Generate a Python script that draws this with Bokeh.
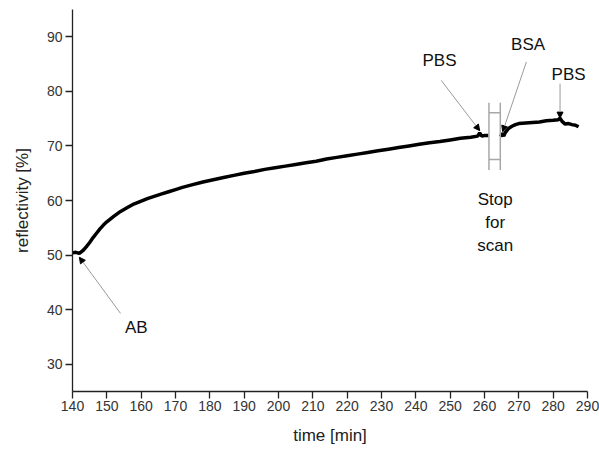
from bokeh.plotting import figure
from bokeh.models import Arrow, NormalHead, Range1d
from bokeh.core.properties import value
from bokeh.embed import file_html
from bokeh.resources import INLINE

# ---- data ----
time_before = [140, 141, 142, 143, 144, 145, 146, 147, 148, 149, 150, 152, 154, 156, 158, 160,
               162, 164, 166, 168, 170, 172, 175, 178, 181, 184, 187, 190, 193, 196, 199, 202,
               205, 208, 211, 214, 217, 220, 223, 226, 229, 232, 235, 238, 241, 244, 247, 250,
               253, 256, 258, 258.6, 259.2, 260, 261.2]
refl_before = [50.4, 50.5, 50.3, 50.8, 51.5, 52.3, 53.2, 54.0, 54.8, 55.5, 56.1, 57.1, 58.0, 58.7,
               59.4, 59.9, 60.4, 60.8, 61.2, 61.6, 62.0, 62.4, 62.9, 63.4, 63.8, 64.2, 64.6, 65.0,
               65.3, 65.7, 66.0, 66.3, 66.6, 66.9, 67.2, 67.6, 67.9, 68.2, 68.5, 68.8, 69.1, 69.4,
               69.7, 70.0, 70.3, 70.6, 70.8, 71.1, 71.4, 71.6, 71.8, 72.4, 71.8, 71.9, 71.9]
time_after = [264.7, 265.2, 265.6, 266.0, 266.6, 267.2, 268.0, 269, 270, 272, 274, 276, 278, 280,
              281.5, 282.0, 282.6, 283.5, 284.5, 285.5, 286.5, 287.4]
refl_after = [71.7, 72.3, 71.8, 72.4, 72.9, 73.3, 73.6, 73.9, 74.1, 74.2, 74.3, 74.4, 74.6, 74.7,
              74.8, 75.1, 74.5, 74.0, 74.1, 73.9, 73.8, 73.5]

x_ticks = list(range(140, 291, 10))
y_ticks = list(range(30, 91, 10))

# annotations: label, text position, arrow start, arrow tip
ann_text = ["AB", "PBS", "BSA", "PBS"]
ann_tx = [158.6, 246.9, 272.7, 284.5]
ann_ty = [36.7, 85.6, 88.5, 83.0]
arr_x0 = [154.0, 247.4, 272.2, 282.0]
arr_y0 = [39.3, 82.0, 85.4, 81.4]
arr_x1 = [142.0, 258.6, 265.3, 282.0]
arr_y1 = [49.6, 72.8, 72.6, 75.1]

stop_lines = ["Stop", "for", "scan"]
stop_x = 263.1
stop_y = [60.1, 56.0, 51.7]

box_x = [261.3, 264.6]
box_y_outer = [65.6, 77.9]
box_y_inner = [67.5, 76.1]

FONT = "Liberation Sans"

p = figure(frame_width=515, frame_height=382, output_backend="svg", toolbar_location=None,
           x_range=Range1d(140, 290), y_range=Range1d(25, 95),
           min_border_left=72, min_border_right=12, min_border_top=9, min_border_bottom=48)
p.outline_line_color = None
p.xgrid.visible = False
p.ygrid.visible = False
p.background_fill_color = "white"

for ax in (p.xaxis[0], p.yaxis[0]):
    ax.axis_line_color = "#222222"
    ax.axis_line_width = 1.3
    ax.major_tick_line_color = "#222222"
    ax.minor_tick_line_color = "#222222"
    ax.major_tick_line_width = 1.3
    ax.minor_tick_line_width = 1.3
    ax.major_tick_out = 7
    ax.major_tick_in = 0
    ax.minor_tick_out = 4
    ax.minor_tick_in = 0
    ax.major_label_text_font = FONT
    ax.major_label_text_font_size = "14px"
    ax.major_label_text_color = "#333333"
    ax.axis_label_text_font = FONT
    ax.axis_label_text_font_size = "17px"
    ax.axis_label_text_font_style = "normal"
    ax.axis_label_text_color = "#222222"

p.xaxis.ticker = x_ticks
p.yaxis.ticker = y_ticks
p.xaxis[0].ticker.num_minor_ticks = 2
p.yaxis[0].ticker.num_minor_ticks = 2
p.xaxis.axis_label = "time [min]"
p.yaxis.axis_label = "reflectivity [%]"
p.xaxis.major_label_standoff = 2
p.yaxis.major_label_standoff = 3
p.xaxis.axis_label_standoff = 12
p.yaxis.axis_label_standoff = 12

# data curve
p.line(time_before, refl_before, line_color="black", line_width=3.5)
p.line(time_after, refl_after, line_color="black", line_width=3.5)

# stop-for-scan box
p.segment(x0=box_x, y0=[box_y_outer[0]] * 2, x1=box_x, y1=[box_y_outer[1]] * 2,
          line_color="#a8a8a8", line_width=1.5)
p.segment(x0=[box_x[0]] * 2, y0=box_y_inner, x1=[box_x[1]] * 2, y1=box_y_inner,
          line_color="#a8a8a8", line_width=1.5)

# arrows
for x0, y0, x1, y1 in zip(arr_x0, arr_y0, arr_x1, arr_y1):
    p.add_layout(Arrow(end=NormalHead(size=6, fill_color="black", line_color="black"),
                       x_start=x0, y_start=y0, x_end=x1, y_end=y1,
                       line_color="#9a9a9a", line_width=1))

p.text(x=ann_tx, y=ann_ty, text=ann_text, text_font=value(FONT), text_font_size="17px",
       text_align="center", text_baseline="middle", text_color="#111111")
p.text(x=[stop_x] * 3, y=stop_y, text=stop_lines, text_font=value(FONT), text_font_size="17px",
       text_align="center", text_baseline="middle", text_color="#111111")

open("out.html", "w").write(file_html(p, INLINE))
